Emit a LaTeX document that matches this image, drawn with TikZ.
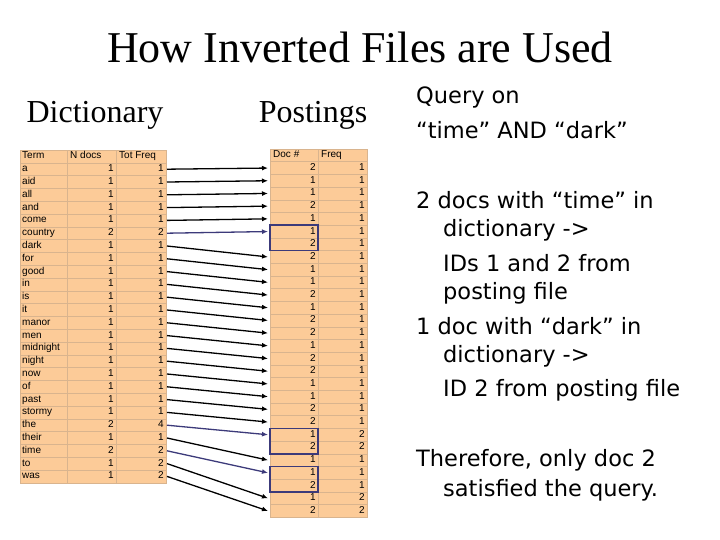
\documentclass[tikz,border=0pt]{standalone}
\usepackage{fontspec}
\setmainfont{Liberation Serif}
\newfontfamily\sans{Liberation Sans}
\newfontfamily\dsans{DejaVu Sans}
\usetikzlibrary{arrows.meta}
\definecolor{cell}{HTML}{FCCB98}
\definecolor{grid}{HTML}{D9B48E}
\definecolor{navy}{HTML}{3C3A7A}
\tikzset{
 cellbox/.style={draw=grid,fill=cell,line width=0.5pt},
 tt/.style={font=\sans\fontsize{10}{10}\selectfont,inner sep=1pt,text height=7pt,text depth=2pt},
 arr/.style={-{Latex[length=6pt,width=5pt]},line width=1.3pt},
 hl/.style={draw=navy,line width=1.5pt},
 rt/.style={anchor=west,font=\dsans\fontsize{22.5}{24}\selectfont,inner sep=0pt},
}
\begin{document}
\begin{tikzpicture}[x=1pt,y=-1pt]
\useasboundingbox (0,0) rectangle (720,540);
\node (title) at (360,47) {\fontsize{44}{46}\selectfont How Inverted Files are Used};
\node (hd) at (95,115) {\fontsize{32}{34}\selectfont Dictionary};
\node (hp) at (313,115) {\fontsize{32}{34}\selectfont Postings};
% dictionary table
\def\dh{12.8}
\foreach \t/\n/\f [count=\i from 0] in {Term/N docs/Tot Freq,a/1/1,aid/1/1,all/1/1,and/1/1,come/1/1,country/2/2,dark/1/1,for/1/1,good/1/1,in/1/1,is/1/1,it/1/1,manor/1/1,men/1/1,midnight/1/1,night/1/1,now/1/1,of/1/1,past/1/1,stormy/1/1,the/2/4,their/1/1,time/2/2,to/1/2,was/1/2}{
 \pgfmathsetmacro\yy{150+\dh*\i}
 \draw[cellbox] (20,\yy) rectangle (67,\yy+\dh);
 \draw[cellbox] (67,\yy) rectangle (116,\yy+\dh);
 \draw[cellbox] (116,\yy) rectangle (166,\yy+\dh);
 \node[tt,anchor=west] (dt\i) at (21,\yy+\dh/2) {\t};
 \ifnum\i=0
  \node[tt,anchor=west] (dn\i) at (69,\yy+\dh/2) {\n};
  \node[tt,anchor=west] (df\i) at (118,\yy+\dh/2) {\f};
 \else
  \node[tt,anchor=east] (dn\i) at (115,\yy+\dh/2) {\n};
  \node[tt,anchor=east] (df\i) at (165,\yy+\dh/2) {\f};
 \fi
 \coordinate (ds\i) at (167,\yy+\dh/2);
}
% postings table
\def\ph{12.7}
\foreach \d/\f [count=\i from 0] in {Doc \#/Freq,2/1,1/1,1/1,2/1,1/1,1/1,2/1,2/1,1/1,1/1,2/1,1/1,2/1,2/1,1/1,2/1,2/1,1/1,1/1,2/1,2/1,1/2,2/2,1/1,1/1,2/1,1/2,2/2}{
 \pgfmathsetmacro\yy{149+\ph*\i}
 \draw[cellbox] (270,\yy) rectangle (318,\yy+\ph);
 \draw[cellbox] (318,\yy) rectangle (367,\yy+\ph);
 \ifnum\i=0
  \node[tt,anchor=west] (pd\i) at (272,\yy+\ph/2) {\d};
  \node[tt,anchor=west] (pf\i) at (320,\yy+\ph/2) {\f};
 \else
  \node[tt,anchor=east] (pd\i) at (317,\yy+\ph/2) {\d};
  \node[tt,anchor=east] (pf\i) at (366,\yy+\ph/2) {\f};
 \fi
 \coordinate (pe\i) at (268,\yy+\ph/2);
}
% highlight boxes
\draw[hl] (270,149+\ph*6) rectangle (318,149+\ph*8);
\draw[hl] (270,149+\ph*22) rectangle (318,149+\ph*24);
\draw[hl] (270,149+\ph*25) rectangle (318,149+\ph*27);
% arrows
\foreach \a/\b/\c in {1/1/black,2/2/black,3/3/black,4/4/black,5/5/black,6/6/navy,7/8/black,8/9/black,9/10/black,10/11/black,11/12/black,12/13/black,13/14/black,14/15/black,15/16/black,16/17/black,17/18/black,18/19/black,19/20/black,20/21/black,21/22/navy,22/24/black,23/25/navy,24/27/black,25/28/black}{
 \draw[arr,draw=\c] (ds\a) -- (pe\b);
}
% right text
\node[rt] (q1) at (416,97) {Query on};
\node[rt] (q2) at (416,130) {“time” AND “dark”};
\node[rt] (a1) at (416,200) {2 docs with “time” in};
\node[rt] (a2) at (443,230) {dictionary ->};
\node[rt] (a3) at (443,263) {IDs 1 and 2 from};
\node[rt] (a4) at (443,293) {posting file};
\node[rt] (b1) at (416,326) {1 doc with “dark” in};
\node[rt] (b2) at (443,356) {dictionary ->};
\node[rt] (b3) at (443,390) {ID 2 from posting file};
\node[rt] (c1) at (416,460) {Therefore, only doc 2};
\node[rt] (c2) at (443,490) {satisfied the query.};
\end{tikzpicture}
\end{document}
